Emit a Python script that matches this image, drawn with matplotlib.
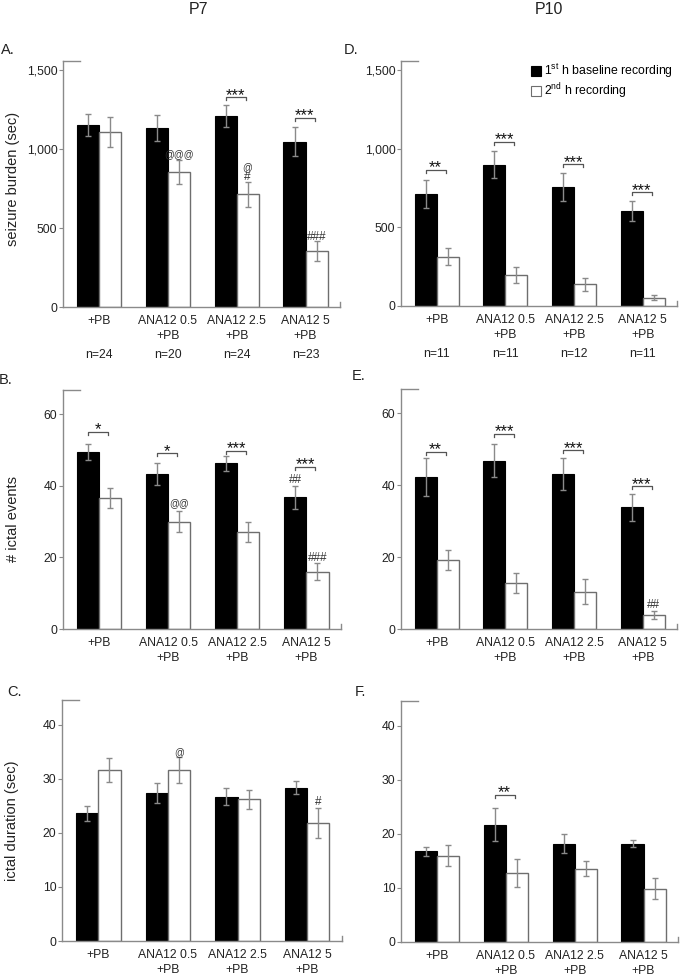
import numpy as np
import matplotlib.pyplot as plt
from matplotlib.patches import Patch

plt.rcParams['font.family'] = ['Liberation Sans', 'DejaVu Sans']
plt.rcParams['mathtext.fontset'] = 'custom'
plt.rcParams['mathtext.rm'] = 'Liberation Sans'

# -------------------------------------------------
# Data
# -------------------------------------------------
groups = ['+PB', 'ANA12 0.5\n+PB', 'ANA12 2.5\n+PB', 'ANA12 5\n+PB']
n_p7 = ['n=24', 'n=20', 'n=24', 'n=23']
n_p10 = ['n=11', 'n=11', 'n=12', 'n=11']

# seizure burden (sec)
burden_p7_h1 = [1152, 1135, 1207, 1046]
burden_p7_h1_err = [72, 82, 70, 93]
burden_p7_h2 = [1110, 856, 713, 356]
burden_p7_h2_err = [95, 76, 79, 64]
burden_p10_h1 = [713, 900, 758, 605]
burden_p10_h1_err = [88, 86, 89, 64]
burden_p10_h2 = [314, 195, 138, 53]
burden_p10_h2_err = [54, 51, 43, 16]

# ictal events
events_p7_h1 = [49.3, 43.3, 46.2, 36.7]
events_p7_h1_err = [2.2, 3.1, 2.2, 3.1]
events_p7_h2 = [36.5, 30.0, 27.1, 16.0]
events_p7_h2_err = [2.8, 3.0, 2.7, 2.3]
events_p10_h1 = [42.3, 46.8, 43.0, 33.8]
events_p10_h1_err = [5.2, 4.6, 4.4, 3.7]
events_p10_h2 = [19.2, 12.9, 10.4, 3.9]
events_p10_h2_err = [2.7, 2.8, 3.4, 1.0]

# ictal duration (sec)
dur_p7_h1 = [23.6, 27.4, 26.7, 28.4]
dur_p7_h1_err = [1.3, 1.9, 1.6, 1.2]
dur_p7_h2 = [31.6, 31.6, 26.2, 21.9]
dur_p7_h2_err = [2.2, 2.4, 1.8, 2.8]
dur_p10_h1 = [16.8, 21.7, 18.2, 18.2]
dur_p10_h1_err = [0.8, 3.1, 1.8, 0.65]
dur_p10_h2 = [16.0, 12.8, 13.6, 9.9]
dur_p10_h2_err = [1.9, 2.6, 1.4, 2.0]

# significance brackets: (group, y, text)
brackets_A = [(2, 1327, '***'), (3, 1196, '***')]
brackets_D = [(0, 868, '**'), (1, 1046, '***'), (2, 902, '***'), (3, 724, '***')]
brackets_B = [(0, 55.0, '*'), (1, 49.0, '*'), (2, 49.7, '***'), (3, 45.3, '***')]
brackets_E = [(0, 49.2, '**'), (1, 54.2, '***'), (2, 49.7, '***'), (3, 39.7, '***')]
brackets_C = []
brackets_F = [(1, 27.2, '**')]

# symbols over bars: (group, bar 0=1st h / 1=2nd h, y, text)
marks_A = [(1, 1, 968, '@@@'), (2, 1, 886, '@'), (2, 1, 823, '#'), (3, 1, 443, '###')]
marks_D = []
marks_B = [(1, 1, 35.0, '@@'), (3, 0, 41.6, '##'), (3, 1, 19.7, '###')]
marks_E = [(3, 1, 6.6, '##')]
marks_C = [(1, 1, 34.9, '@'), (3, 1, 25.8, '#')]
marks_F = []

# -------------------------------------------------
# Plot
# -------------------------------------------------
W, H = 685, 975
fig = plt.figure(figsize=(W/100, H/100), dpi=100)

def px_axes(left, right, top, bottom):
    return fig.add_axes([left/W, 1 - bottom/H, (right-left)/W, (bottom-top)/H])

gray = '#8a8a8a'
bw = 0.32
x = np.arange(len(groups))

def panel(ax, h1, h1e, h2, h2e, ytop, yticks, yticklabels, brackets, marks):
    ax.bar(x - bw/2, h1, bw, color='black', edgecolor='black', linewidth=0.8, zorder=2)
    ax.bar(x + bw/2, h2, bw, color='white', edgecolor='#6e6e6e', linewidth=1.0, zorder=2)
    ax.errorbar(x - bw/2, h1, yerr=h1e, fmt='none', ecolor=gray, elinewidth=1, capsize=2.3, capthick=1, zorder=3)
    ax.errorbar(x + bw/2, h2, yerr=h2e, fmt='none', ecolor=gray, elinewidth=1, capsize=2.3, capthick=1, zorder=3)

    ax.set_xlim(-0.52, 3.5)
    ax.set_ylim(0, ytop)
    ax.set_yticks(yticks)
    ax.set_yticklabels(yticklabels)
    ax.set_xticks(x)
    ax.set_xticklabels(groups, linespacing=1.25)
    ax.tick_params(axis='x', length=0, pad=6, labelsize=8.8, colors='#222222')
    ax.tick_params(axis='y', length=3, width=0.8, color=gray, labelsize=8.8, labelcolor='#222222', pad=1)
    for s in ['top', 'right']:
        ax.spines[s].set_visible(False)
    for s in ['left', 'bottom']:
        ax.spines[s].set_color(gray)
        ax.spines[s].set_linewidth(1)
    # end caps on the axes
    ax.plot([0, 0.06], [1, 1], color=gray, lw=1, transform=ax.transAxes, clip_on=False)
    ax.plot([1, 1], [0, 0.02], color=gray, lw=1, transform=ax.transAxes, clip_on=False)

    d = 0.012 * ytop
    for g, y, t in brackets:
        x0, x1 = g - bw/2, g + bw/2 - 0.03
        ax.plot([x0, x0, x1, x1], [y - d, y, y, y - d], color='#555555', lw=0.9, zorder=4)
        ax.annotate(t, ((x0 + x1)/2, y), xytext=(0, -1.8), textcoords='offset points',
                    ha='center', va='baseline', fontsize=12, color='#111111')
    for g, b, y, t in marks:
        xx = g - bw/2 if b == 0 else g + bw/2
        fs = 7 if '@' in t else 8.5
        ax.text(xx, y, t, ha='center', va='center', fontsize=fs, color='#333333')

axA = px_axes(63, 340, 61, 307)
panel(axA, burden_p7_h1, burden_p7_h1_err, burden_p7_h2, burden_p7_h2_err,
      1557, [0, 500, 1000, 1500], ['0', '500', '1,000', '1,500'], brackets_A, marks_A)
axD = px_axes(401, 677, 61, 306)
panel(axD, burden_p10_h1, burden_p10_h1_err, burden_p10_h2, burden_p10_h2_err,
      1560, [0, 500, 1000, 1500], ['0', '500', '1,000', '1,500'], brackets_D, marks_D)
axB = px_axes(63, 341, 390, 629)
panel(axB, events_p7_h1, events_p7_h1_err, events_p7_h2, events_p7_h2_err,
      66.7, [0, 20, 40, 60], ['0', '20', '40', '60'], brackets_B, marks_B)
axE = px_axes(401, 677, 389, 629)
panel(axE, events_p10_h1, events_p10_h1_err, events_p10_h2, events_p10_h2_err,
      66.7, [0, 20, 40, 60], ['0', '20', '40', '60'], brackets_E, marks_E)
axC = px_axes(62, 342, 700, 941)
panel(axC, dur_p7_h1, dur_p7_h1_err, dur_p7_h2, dur_p7_h2_err,
      44.6, [0, 10, 20, 30, 40], ['0', '10', '20', '30', '40'], brackets_C, marks_C)
axF = px_axes(401, 678, 701, 942)
panel(axF, dur_p10_h1, dur_p10_h1_err, dur_p10_h2, dur_p10_h2_err,
      44.6, [0, 10, 20, 30, 40], ['0', '10', '20', '30', '40'], brackets_F, marks_F)

# y labels
axA.set_ylabel('seizure burden (sec)', fontsize=10.5, color='#222222')
axA.yaxis.set_label_coords(-0.155, 0.52)
axB.set_ylabel('# ictal events', fontsize=10.5, color='#222222')
axB.yaxis.set_label_coords(-0.155, 0.46)
axC.set_ylabel('ictal duration (sec)', fontsize=10.5, color='#222222')
axC.yaxis.set_label_coords(-0.152, 0.5)

# n labels under top row
for ax, ns in [(axA, n_p7), (axD, n_p10)]:
    ax_h = ax.get_position().height * H
    for i, t in enumerate(ns):
        ax.text(i, -48/ax_h, t, ha='center', va='center', fontsize=8.8, color='#222222',
                transform=ax.get_xaxis_transform())

# panel letters and column titles
for t, px, py in [('A.', 8, 50), ('D.', 351, 50), ('B.', 6, 380),
                  ('E.', 359, 376), ('C.', 14, 692), ('F.', 360, 692)]:
    fig.text(px/W, 1 - py/H, t, ha='center', va='center', fontsize=10.5, color='#222222')
fig.text(198/W, 1 - 10/H, 'P7', ha='center', va='center', fontsize=11.5, color='#222222')
fig.text(549/W, 1 - 10/H, 'P10', ha='center', va='center', fontsize=11.5, color='#222222')

# legend
handles = [Patch(facecolor='black', edgecolor='black', linewidth=0.8),
           Patch(facecolor='white', edgecolor='#6e6e6e', linewidth=0.8)]
labels = [r'1$^{\mathrm{st}}$ h baseline recording', r'2$^{\mathrm{nd}}$ h recording']
axD.legend(handles, labels, loc='upper left', bbox_to_anchor=((531-401)/276, 1 - (62-61)/245),
           frameon=False, fontsize=8.8, handlelength=0.8, handleheight=0.8,
           handletextpad=0.25, labelspacing=0.1, borderaxespad=0, borderpad=0)

plt.savefig('out.png', dpi=100)
